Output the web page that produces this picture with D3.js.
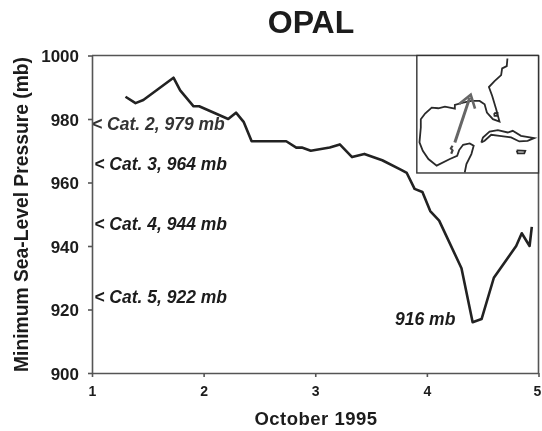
<!DOCTYPE html>
<html>
<head>
<meta charset="utf-8">
<script src="https://cdn.jsdelivr.net/npm/d3@7"></script>
<style>
  html, body { margin: 0; padding: 0; background: #fff; }
  text { font-family: "Liberation Sans", Arial, sans-serif; font-weight: bold; fill: #1c1c1c; }
</style>
</head>
<body>
<div id="chart"></div>
<script>
// Pressure trace
const days = [1.30, 1.39, 1.46, 1.73, 1.79, 1.91, 1.96, 2.22, 2.29, 2.36, 2.43, 2.74, 2.83, 2.88, 2.96, 3.13, 3.22, 3.33, 3.44, 3.60, 3.77, 3.82, 3.89, 3.96, 4.03, 4.11, 4.31, 4.41, 4.49, 4.60, 4.80, 4.85, 4.92, 4.94];
const pressure = [987, 985, 986, 993, 989, 984, 984, 980, 982, 979, 973, 973, 971, 971, 970, 971, 972, 968, 969, 967, 964, 963, 958, 957, 951, 948, 933, 916, 917, 930, 940, 944, 940, 946];

const xTicks = [1, 2, 3, 4, 5];
const yTicks = [900, 920, 940, 960, 980, 1000];

// Category notes, level is where the label sits on the pressure axis
const catLabels = ['< Cat. 2, 979 mb', '< Cat. 3, 964 mb', '< Cat. 4, 944 mb', '< Cat. 5, 922 mb'];
const catLevels = [978.5, 966, 947, 924];
const catDays = [1.0, 1.02, 1.02, 1.02];

// Inset map outlines, in the inset's own 368x354 units
const coast = [[145, 352], [150, 327], [165, 297], [172, 272], [160, 265], [140, 269], [128, 285], [122, 302], [100, 312], [60, 332], [35, 312], [18, 287], [8, 262], [12, 217], [12, 192], [25, 175], [45, 157], [65, 159], [85, 154], [115, 160], [115, 149], [140, 142], [165, 137], [190, 137], [205, 147], [212, 172], [230, 192], [250, 199], [240, 162], [228, 122], [218, 95], [235, 77], [255, 59], [258, 39], [272, 32], [274, 9]];
const cuba = [[195, 262], [200, 247], [220, 229], [245, 225], [275, 232], [290, 227], [315, 242], [355, 249], [335, 257], [310, 259], [285, 247], [250, 242], [225, 239], [205, 257], [195, 262]];
const jamaica = [[302, 286], [328, 287], [325, 295], [305, 295], [302, 286]];
const lake = [[234, 174], [244, 173], [243, 182], [235, 182], [234, 174]];
const storm = [[108, 272], [103, 280], [108, 286], [104, 296]];
const track = [[115, 262], [160, 127]];
const trackHead = [[128, 146], [163, 118], [176, 160]];

const width = 542;
const height = 431;
const margins = { top: 55.5, right: 3.5, bottom: 58, left: 92 };
const innerWidth = width - margins.left - margins.right;
const innerHeight = height - margins.top - margins.bottom;

const svg = d3.select('#chart')
    .append('svg')
    .attr('width', width)
    .attr('height', height)
    .style('display', 'block')
    .style('filter', 'blur(0.35px)');

const g = svg.append('g')
    .attr('transform', `translate(${margins.left},${margins.top})`);

const xScale = d3.scaleLinear().domain([1, 5]).range([0, innerWidth]);
const yScale = d3.scaleLinear().domain([900, 1000]).range([innerHeight, 0]);

// Axes
const xAxis = d3.axisBottom(xScale).tickValues(xTicks).tickFormat(d3.format('d')).tickSize(4).tickSizeOuter(0);
const yAxis = d3.axisLeft(yScale).tickValues(yTicks).tickFormat(d3.format('d')).tickSize(4).tickSizeOuter(0);

const xG = g.append('g').attr('transform', `translate(0,${innerHeight})`).call(xAxis);
const yG = g.append('g').call(yAxis);

[xG, yG].forEach(a => {
    a.selectAll('path, line').attr('stroke', '#555').attr('stroke-width', 1.6);
});
xG.selectAll('text').style('font-size', '14px').attr('y', 13).attr('dy', '0.71em');
xG.selectAll('text').filter(d => d === 5).attr('x', -1.5); // keep the 5 inside the page
yG.selectAll('text').style('font-size', '17px').attr('x', -13).attr('dy', '0.36em');

// Top and right frame
g.append('line').attr('x1', 0).attr('x2', innerWidth).attr('y1', 0).attr('y2', 0)
    .attr('stroke', '#555').attr('stroke-width', 1.6);
g.append('line').attr('x1', innerWidth).attr('x2', innerWidth).attr('y1', 0).attr('y2', innerHeight)
    .attr('stroke', '#555').attr('stroke-width', 1.6);

// Pressure line
const line = d3.line().x((d, i) => xScale(days[i])).y(d => yScale(d));
g.append('path')
    .datum(pressure)
    .attr('d', line)
    .attr('fill', 'none')
    .attr('stroke', '#222')
    .attr('stroke-width', 2.6)
    .attr('stroke-linejoin', 'round');

// Category labels
g.selectAll('.cat')
    .data(catLabels)
    .enter().append('text')
    .attr('class', 'cat')
    .attr('x', (d, i) => xScale(catDays[i]))
    .attr('y', (d, i) => yScale(catLevels[i]))
    .attr('dy', '0.36em')
    .style('font-size', '17.5px')
    .style('font-style', 'italic')
    .style('fill', (d, i) => i === 0 ? '#333' : '#1c1c1c')
    .text(d => d);

g.append('text')
    .attr('x', xScale(3.715))
    .attr('y', yScale(917))
    .attr('dy', '0.36em')
    .style('font-size', '17.5px')
    .style('font-style', 'italic')
    .text('916 mb');

// Titles
svg.append('text')
    .attr('x', 311).attr('y', 32.5)
    .attr('text-anchor', 'middle')
    .style('font-size', '32px')
    .text('OPAL');

svg.append('text')
    .attr('x', 316).attr('y', 425)
    .attr('text-anchor', 'middle')
    .style('font-size', '18.5px')
    .style('letter-spacing', '0.5px')
    .text('October 1995');

svg.append('text')
    .attr('transform', 'translate(28.3,214.5) rotate(-90)')
    .attr('text-anchor', 'middle')
    .style('font-size', '19.3px')
    .text('Minimum Sea-Level Pressure (mb)');

// Inset map
const inset = g.append('g').attr('transform', `translate(${xScale(3.91)},0)`);
const insetW = innerWidth - xScale(3.91);
const insetH = yScale(963);
const mx = d3.scaleLinear().domain([0, 368]).range([0, insetW]);
const my = d3.scaleLinear().domain([0, 354]).range([0, insetH]);
const mapLine = d3.line().x(d => mx(d[0])).y(d => my(d[1]));

inset.append('rect')
    .attr('width', insetW).attr('height', insetH)
    .attr('fill', '#fff').attr('stroke', '#333').attr('stroke-width', 1.4);

[coast, cuba, jamaica, lake].forEach(shape => {
    inset.append('path')
        .attr('d', mapLine(shape))
        .attr('fill', 'none')
        .attr('stroke', '#2a2a2a')
        .attr('stroke-width', 1.8);
});

inset.append('path')
    .attr('d', mapLine(storm))
    .attr('fill', 'none')
    .attr('stroke', '#444')
    .attr('stroke-width', 2.2);

inset.append('path')
    .attr('d', mapLine(track))
    .attr('fill', 'none')
    .attr('stroke', '#666')
    .attr('stroke-width', 3);

inset.append('path')
    .attr('d', mapLine(trackHead))
    .attr('fill', 'none')
    .attr('stroke', '#666')
    .attr('stroke-width', 2.6);
</script>
</body>
</html>
